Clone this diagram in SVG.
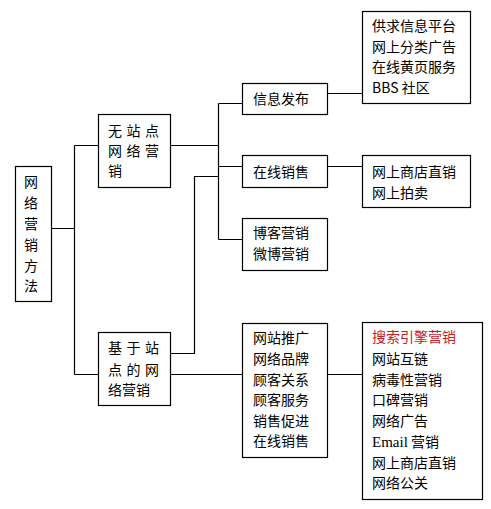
<svg xmlns="http://www.w3.org/2000/svg" width="491" height="509" viewBox="0 0 491 509">
<style>
rect{fill:#fff;stroke:#000;stroke-width:1.2}
path{fill:none;stroke:#000;stroke-width:1.2}
text{font-family:"Noto Sans CJK SC","Noto Sans",sans-serif;font-size:14px;fill:#000}
.red{fill:#c8201e}
.serif{font-family:"Liberation Serif",serif;font-size:15px}
</style>
<rect x="0" y="0" width="491" height="509" style="stroke:none"/>
<g id="connectors">
<path d="M51.5 228.5H74.5M74.5 145.5V374.5M74.5 145.5H98.5M74.5 374.5H98.5"/>
<path d="M170.5 145.5H218.5M218.5 103.5V239.5M218.5 103.5H242.5M218.5 166.5H242.5M218.5 239.5H242.5"/>
<path d="M170.5 353.5H194.5V176.5H218.5M170.5 374.5H242.5"/>
<path d="M327.5 93.5H362.5M327.5 166.5H362.5M327.5 374.5H362.5"/>
</g>
<g id="root">
<rect x="15.5" y="166.5" width="36" height="135"/>
<text x="31" y="187" text-anchor="middle">网</text>
<text x="31" y="208" text-anchor="middle">络</text>
<text x="31" y="229" text-anchor="middle">营</text>
<text x="31" y="250" text-anchor="middle">销</text>
<text x="31" y="271" text-anchor="middle">方</text>
<text x="31" y="291" text-anchor="middle">法</text>
</g>
<g id="nosite">
<rect x="98.5" y="114.5" width="72" height="73"/>
<text x="108" y="136" textLength="51" lengthAdjust="spacing">无站点</text>
<text x="108" y="156" textLength="51" lengthAdjust="spacing">网络营</text>
<text x="108" y="176">销</text>
</g>
<g id="site">
<rect x="98.5" y="332.5" width="72" height="73"/>
<text x="108" y="353" textLength="51" lengthAdjust="spacing">基于站</text>
<text x="108" y="375" textLength="51" lengthAdjust="spacing">点的网</text>
<text x="108" y="395">络营销</text>
</g>
<g id="info">
<rect x="242.5" y="83.5" width="85" height="31"/>
<text x="253" y="104">信息发布</text>
</g>
<g id="online">
<rect x="242.5" y="155.5" width="85" height="32"/>
<text x="253" y="177">在线销售</text>
</g>
<g id="blog">
<rect x="242.5" y="218.5" width="85" height="52"/>
<text x="253" y="238">博客营销</text>
<text x="253" y="259">微博营销</text>
</g>
<g id="sitepromo">
<rect x="242.5" y="323.5" width="85" height="134"/>
<text x="253" y="343">网站推广</text>
<text x="253" y="364">网络品牌</text>
<text x="253" y="385">顾客关系</text>
<text x="253" y="405">顾客服务</text>
<text x="253" y="426">销售促进</text>
<text x="253" y="446">在线销售</text>
</g>
<g id="infolist">
<rect x="362.5" y="11.5" width="108" height="92"/>
<text x="372" y="31">供求信息平台</text>
<text x="372" y="52">网上分类广告</text>
<text x="372" y="72">在线黄页服务</text>
<text x="372" y="93">BBS 社区</text>
</g>
<g id="onlinelist">
<rect x="362.5" y="155.5" width="108" height="52"/>
<text x="372" y="177">网上商店直销</text>
<text x="372" y="198">网上拍卖</text>
</g>
<g id="sitelist">
<rect x="362.5" y="322.5" width="120" height="177"/>
<text x="372" y="342" class="red">搜索引擎营销</text>
<text x="372" y="364">网站互链</text>
<text x="372" y="385">病毒性营销</text>
<text x="372" y="405">口碑营销</text>
<text x="372" y="426">网络广告</text>
<text x="372" y="447"><tspan class="serif">Email</tspan> 营销</text>
<text x="372" y="468">网上商店直销</text>
<text x="372" y="488">网络公关</text>
</g>
</svg>
